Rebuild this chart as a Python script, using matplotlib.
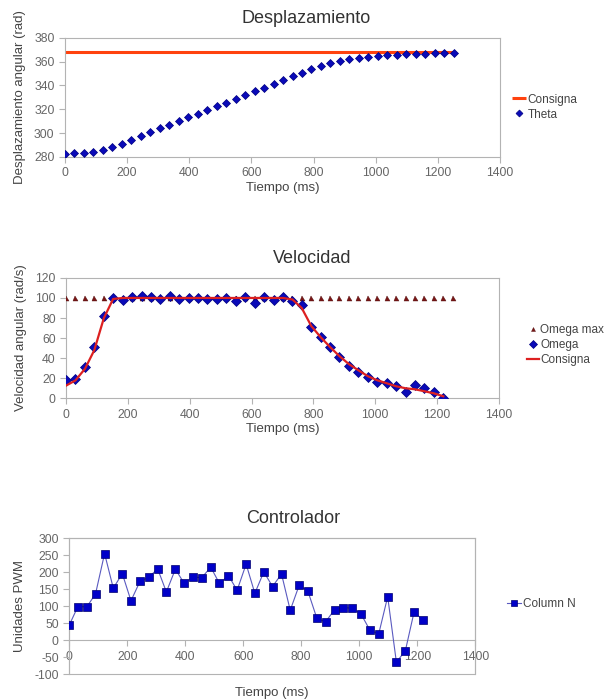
import numpy as np
import matplotlib
matplotlib.use('Agg')
import matplotlib.pyplot as plt
from matplotlib.patches import Rectangle

plt.rcParams['font.family'] = ['Liberation Sans', 'DejaVu Sans']
plt.rcParams['axes.unicode_minus'] = False

# Time samples (ms)
tiempo = [0, 30, 61, 91, 122, 152, 183, 213, 244, 274, 305, 335, 366, 396,
          427, 457, 488, 518, 549, 579, 610, 640, 671, 701, 732, 762, 793,
          823, 854, 884, 915, 945, 976, 1006, 1037, 1067, 1098, 1128, 1159,
          1189, 1220, 1250]

# Desplazamiento
consigna_theta = 368
theta = [282.2, 283.0, 283.5, 284.2, 285.6, 288.0, 291.0, 294.0, 297.4, 300.8,
         303.9, 307.0, 309.8, 313.2, 316.3, 319.0, 322.4, 325.5, 328.9, 331.7,
         335.0, 338.1, 341.2, 344.6, 347.7, 350.7, 353.8, 356.6, 358.8, 360.5,
         361.9, 363.1, 363.9, 364.7, 365.3, 365.8, 366.1, 366.4, 366.7, 367.0,
         367.2, 367.3]

# Velocidad
omega_max = 100
omega = [18, 19, 31.5, 51.5, 81.6, 100.3, 98, 101.3, 102.3, 101, 99, 101.7,
         98.7, 100.3, 100, 98.7, 99, 100, 97.3, 101.3, 95.3, 101.3, 98.3,
         100.7, 96.7, 93.3, 71.2, 61.2, 50.8, 40.8, 31.8, 26.4, 21.4, 16.7,
         15, 12, 6.7, 13, 10.4, 6, 0.3]
consigna_omega = [12.7, 17.8, 29.5, 48, 80, 99, 100, 100, 100, 100, 100, 100,
                  100, 100, 100, 100, 100, 100, 100, 100, 100, 100, 100, 100,
                  98.5, 90, 72, 61, 51, 42, 34, 28, 22, 18, 15, 12, 10, 9, 7,
                  5, 2]

# Controlador
pwm = [44, 99, 98, 137, 255, 153, 196, 116, 173, 185, 210, 142, 209, 168,
       186, 184, 215, 167, 190, 147, 224, 138, 201, 158, 195, 88, 162, 144,
       64, 54, 90, 96, 94, 77, 29, 18, 128, -65, -31, 83, 59]

FRAME = '#b3b3b3'
TICKC = '#666666'
LABC = '#444444'
TITLEC = '#333333'
BLUE = '#0a0ab8'
BLUE_EDGE = '#000080'

fig = plt.figure(figsize=(6.07, 7.0), dpi=100)


def style_axes(ax):
    for sp in ax.spines.values():
        sp.set_color(FRAME)
        sp.set_linewidth(0.8)
    ax.tick_params(colors=FRAME, labelcolor=TICKC, labelsize=8.8,
                   length=4, width=0.8, direction='out')
    ax.set_xlim(0, 1400)
    ax.set_xticks(range(0, 1401, 200))


def add_legend(ax, x, y, **kw):
    ax.legend(loc='center left', bbox_to_anchor=(x, y),
              bbox_transform=fig.transFigure, frameon=False, fontsize=8.5,
              handletextpad=0.15, labelspacing=0.25, borderpad=0,
              labelcolor=LABC, **kw)


# ---- Desplazamiento ----
ax1 = fig.add_axes([0.107, 0.776, 0.717, 0.170])
style_axes(ax1)
ax1.hlines(consigna_theta, tiempo[0], tiempo[-1], color='#ff420e', lw=2.2,
           label='Consigna', zorder=2)
ax1.plot(tiempo, theta, 'D', ms=4.4, color=BLUE, mec=BLUE_EDGE, mew=0.5,
         label='Theta', zorder=3)
ax1.set_ylim(280, 380)
ax1.set_yticks(range(280, 381, 20))
ax1.set_xlabel('Tiempo (ms)', fontsize=9.5, color=LABC, labelpad=2)
ax1.set_ylabel('Desplazamiento angular (rad)', fontsize=9.5, color=LABC,
               labelpad=6)
fig.text(0.505, 0.974, 'Desplazamiento', ha='center', va='center',
         fontsize=13, color=TITLEC)
add_legend(ax1, 0.833, 0.847, handlelength=1.2, markerscale=0.8)

# ---- Velocidad ----
ax2 = fig.add_axes([0.109, 0.431, 0.713, 0.172])
style_axes(ax2)
n = len(omega)
ax2.plot(tiempo, np.full(len(tiempo), omega_max), '^', ms=3.6,
         color='#7a1515', mec='#4d0a0a', mew=0.3, label='Omega max', zorder=3)
ax2.plot(tiempo[:n], omega, 'D', ms=5.0, color=BLUE, mec=BLUE_EDGE, mew=0.5,
         label='Omega', zorder=4)
ax2.plot(tiempo[:n], consigna_omega, '-', color='#dd2020', lw=1.6,
         label='Consigna', zorder=5)
ax2.set_ylim(0, 120)
ax2.set_yticks(range(0, 121, 20))
ax2.set_xlabel('Tiempo (ms)', fontsize=9.5, color=LABC, labelpad=2)
ax2.set_ylabel('Velocidad angular (rad/s)', fontsize=9.5, color=LABC,
               labelpad=6)
fig.text(0.514, 0.631, 'Velocidad', ha='center', va='center',
         fontsize=13, color=TITLEC)
add_legend(ax2, 0.858, 0.507, handlelength=1.0, markerscale=0.8)

# ---- Controlador ----
ax3 = fig.add_axes([0.114, 0.037, 0.669, 0.194])
style_axes(ax3)
ax3.plot(tiempo[:len(pwm)], pwm, '-s', ms=5.2, color='#5a5ac0', lw=0.8,
         mfc='#0000c8', mec='#000070', mew=0.5, label='Column N', zorder=3)
ax3.set_ylim(-100, 300)
ax3.set_yticks(range(-100, 301, 50))
ax3.spines['bottom'].set_position(('data', 0))
ax3.add_patch(Rectangle((0, 0), 1, 1, transform=ax3.transAxes, fill=False,
                        edgecolor=FRAME, lw=0.8, clip_on=False, zorder=1))
ax3.text(0.5, -0.14, 'Tiempo (ms)', transform=ax3.transAxes, ha='center',
         va='center', fontsize=9.5, color=LABC)
ax3.set_ylabel('Unidades PWM', fontsize=9.5, color=LABC, labelpad=6)
fig.text(0.483, 0.259, 'Controlador', ha='center', va='center',
         fontsize=13, color=TITLEC)
add_legend(ax3, 0.826, 0.137, handlelength=1.2, markerscale=0.8)

fig.savefig('out.png', dpi=100)
